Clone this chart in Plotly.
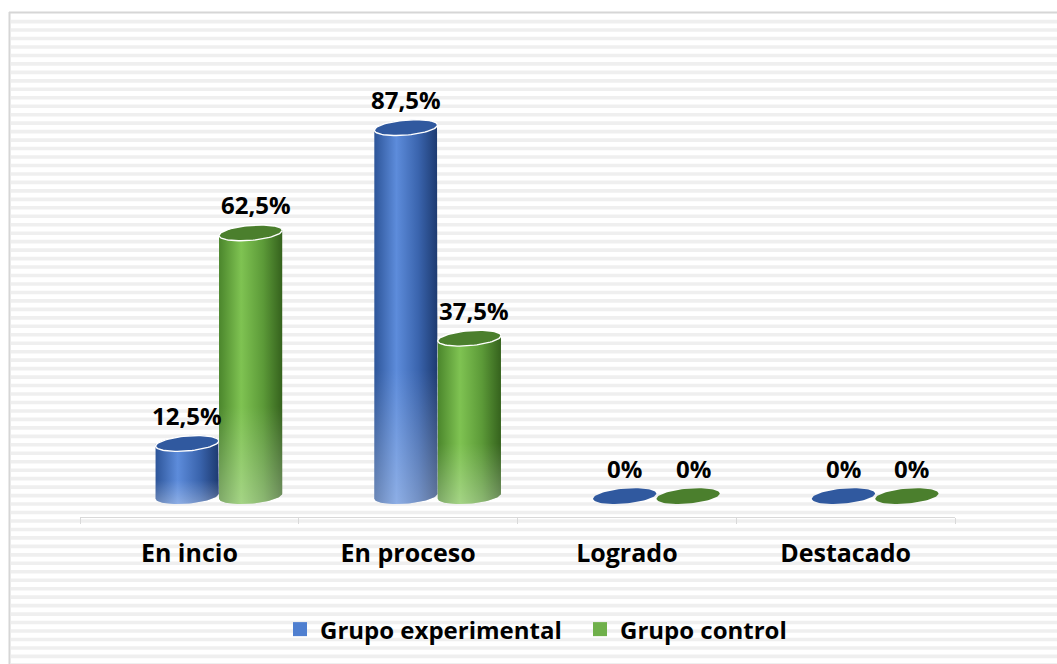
import numpy as np
import plotly.graph_objects as go

# ---------------- data ----------------
categories = ["En incio", "En proceso", "Logrado", "Destacado"]
series_names = ["Grupo experimental", "Grupo control"]
experimental = [12.5, 87.5, 0, 0]
control = [62.5, 37.5, 0, 0]
labels_exp = ["12,5%", "87,5%", "0%", "0%"]
labels_ctl = ["62,5%", "37,5%", "0%", "0%"]

# ---------------- layout geometry ----------------
W, H = 1057, 664
ML, MR, MT, MB = 80, 102, 40, 145
PW, PH = W - ML - MR, H - MT - MB
X_RANGE = [-0.5, 3.5]
Y_RANGE = [-4.96, 108.3]
PX_X = PW / (X_RANGE[1] - X_RANGE[0])
PX_Y = PH / (Y_RANGE[1] - Y_RANGE[0])

HALF_W = 0.145          # cylinder half width (x units)
RY_PX = 7.5             # ellipse vertical radius in px
TILT = np.deg2rad(5)    # perspective tilt of ellipses
OFFSETS = [-0.01, 0.28]  # 3-D depth offset of the two series

FONT = "Open Sans"

styles = [
    dict(grad=[[0, "#2d5599"], [0.35, "#5d8cdb"], [0.7, "#3a64ad"], [1, "#1d3a70"]],
         top="#30599f", legend="#4f7fd0"),
    dict(grad=[[0, "#4b862c"], [0.35, "#7fc352"], [0.7, "#5c9a38"], [1, "#35621d"]],
         top="#4b7f2d", legend="#6fb04a"),
]
SHINE = [[0, "rgba(255,255,255,0.30)"], [0.35, "rgba(255,255,255,0)"], [1, "rgba(255,255,255,0)"]]


def ellipse(cx, cy, t):
    ex = HALF_W * PX_X * np.cos(t)
    ey = RY_PX * np.sin(t)
    xr = ex * np.cos(TILT) - ey * np.sin(TILT)
    yr = ex * np.sin(TILT) + ey * np.cos(TILT)
    return cx + xr / PX_X, cy + yr / PX_Y


fig = go.Figure()
annotations = []

for s, (values, labels) in enumerate([(experimental, labels_exp), (control, labels_ctl)]):
    st = styles[s]
    for i, v in enumerate(values):
        cx = i + OFFSETS[s]
        if v > 0:
            bx, by = ellipse(cx, 0, np.linspace(np.pi, 2 * np.pi, 40))
            tx, ty = ellipse(cx, v, np.linspace(0, np.pi, 40))
            bodyx, bodyy = np.concatenate([bx, tx]), np.concatenate([by, ty])
            fig.add_trace(go.Scatter(
                x=bodyx, y=bodyy,
                mode="lines", fill="toself", line=dict(width=0),
                fillgradient=dict(type="horizontal", colorscale=st["grad"]),
                hoverinfo="skip", showlegend=False))
            fig.add_trace(go.Scatter(
                x=bodyx, y=bodyy,
                mode="lines", fill="toself", line=dict(width=0),
                fillgradient=dict(type="vertical", colorscale=SHINE),
                hoverinfo="skip", showlegend=False))
            ex, ey = ellipse(cx, v, np.linspace(0, 2 * np.pi, 80))
            fig.add_trace(go.Scatter(
                x=ex, y=ey, mode="lines", fill="toself", fillcolor=st["top"],
                line=dict(width=1.4, color="white"),
                hoverinfo="skip", showlegend=False))
        else:
            ex, ey = ellipse(cx, v, np.linspace(0, 2 * np.pi, 80))
            fig.add_trace(go.Scatter(
                x=ex, y=ey, mode="lines", fill="toself", fillcolor=st["top"],
                line=dict(width=0),
                hoverinfo="skip", showlegend=False))
        annotations.append(dict(
            x=cx, y=v, xref="x", yref="y", text=labels[i], showarrow=False,
            yshift=28, xshift=5 * s,
            font=dict(family=FONT, size=24, color="black", weight="bold")))

# legend entries
for s, name in enumerate(series_names):
    fig.add_trace(go.Scatter(
        x=[None], y=[None], mode="markers", name=name,
        marker=dict(symbol="square", size=14, color=styles[s]["legend"])))

# ---------------- background stripes & border ----------------
def px2x(px):
    return (px - ML) / PW


def px2y(py):
    return (MT + PH - py) / PH


path = ""
y = 21.5
while y < H + 4:
    path += f"M{px2x(11):.5f},{px2y(y):.5f} L{px2x(W + 5):.5f},{px2y(y):.5f} "
    y += 8.5

shapes = [
    dict(type="path", path=path, xref="paper", yref="paper", layer="below",
         line=dict(color="#efefef", width=3.6)),
    dict(type="line", xref="paper", yref="paper", layer="below",
         x0=px2x(9), x1=px2x(W + 5), y0=px2y(12.5), y1=px2y(12.5),
         line=dict(color="#d6d6d6", width=2)),
    dict(type="line", xref="paper", yref="paper", layer="below",
         x0=px2x(9.5), x1=px2x(9.5), y0=px2y(12), y1=px2y(H + 5),
         line=dict(color="#d6d6d6", width=2)),
]

fig.update_layout(
    width=W, height=H,
    margin=dict(l=ML, r=MR, t=MT, b=MB, pad=0),
    paper_bgcolor="white", plot_bgcolor="rgba(0,0,0,0)",
    shapes=shapes, annotations=annotations,
    xaxis=dict(range=X_RANGE, tickvals=list(range(len(categories))), ticktext=categories,
               showgrid=False, zeroline=False, showline=True, linecolor="#d9d9d9", linewidth=1,
               ticks="outside", ticklen=14, tickcolor="rgba(0,0,0,0)",
               tickfont=dict(family=FONT, size=25, color="black", weight="bold"),
               minor=dict(tick0=-0.5, dtick=1, ticks="outside", ticklen=6,
                          tickcolor="#d9d9d9", showgrid=False),
               fixedrange=True),
    yaxis=dict(range=Y_RANGE, visible=False, showgrid=False, zeroline=False, fixedrange=True),
    showlegend=True,
    legend=dict(orientation="h", x=px2x(280), xanchor="left", y=px2y(632), yanchor="middle",
                entrywidth=255, bgcolor="rgba(0,0,0,0)",
                font=dict(family=FONT, size=24, color="black", weight="bold")),
)

fig.write_html("out.html", config={"displayModeBar": False},
               post_script="document.body.style.margin='0';document.body.style.padding='0';")
